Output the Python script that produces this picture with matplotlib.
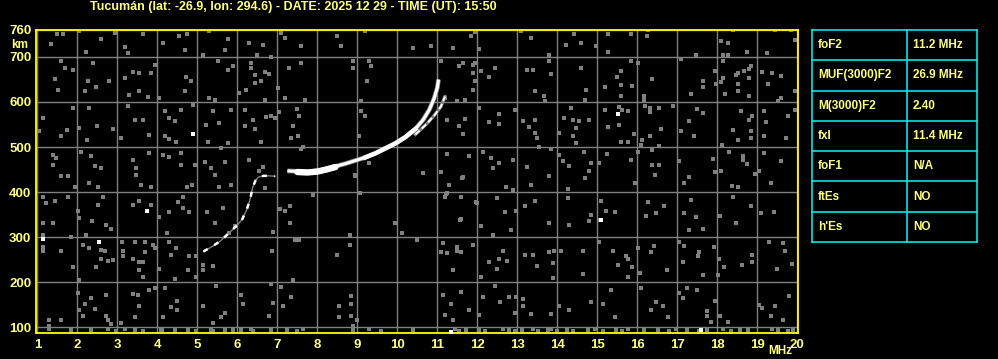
import numpy as np
import matplotlib
matplotlib.use('Agg')
import matplotlib.pyplot as plt

# Ionogram header and axes
title = 'Tucumán (lat: -26.9, lon: 294.6) - DATE: 2025 12 29 - TIME (UT): 15:50'
freq_ticks = list(range(1, 21))
height_ticks = [100, 200, 300, 400, 500, 600, 700, 760]

# F-layer trace, low part (MHz, km)
lower_f = [5.15, 5.35, 5.57, 5.8, 6.0, 6.11, 6.23, 6.32, 6.38, 6.45, 6.52, 6.65, 6.8, 6.94]
lower_h = [268, 278, 291, 310, 327, 338, 360, 385, 410, 425, 433, 436, 436, 435]

# ordinary trace
main_f = [7.25, 7.5, 7.75, 8.0, 8.2, 8.45, 8.7, 8.95, 9.2, 9.45, 9.7, 9.95, 10.2,
          10.45, 10.65, 10.8, 10.92, 11.0, 11.03]
main_h = [447, 446, 445, 447, 451, 457, 463, 470, 477, 486, 497, 508, 522,
          540, 561, 583, 608, 632, 650]

# extraordinary trace
xtrace_f = [10.45, 10.6, 10.75, 10.94, 11.09, 11.19]
xtrace_h = [528, 540, 553, 572, 590, 612]

# isolated strong echoes
white_f = [1.14, 2.53, 3.74, 4.88, 15.09, 15.53, 11.34, 17.59]
white_h = [296, 290, 359, 530, 337, 574, 90, 94]

# background noise echoes
noise_f = [
    1.49, 1.63, 1.34, 2.03, 2.59, 2.22, 2.94, 3.18, 3.26, 3.64, 4.14, 4.55, 4.73, 4.68, 5.30, 5.76, 5.68, 5.14,
    1.59, 1.68, 1.88, 2.39, 2.26, 2.79, 1.43, 1.51, 2.18, 2.47, 3.18, 3.38, 3.55, 3.84, 3.29, 3.55, 3.76, 4.05,
    3.93, 4.72, 4.84, 4.68, 5.51, 5.89, 5.76, 5.30, 5.43,
    1.14, 1.05, 1.59, 1.73, 1.90, 2.30, 2.49, 2.05, 2.24, 2.88, 3.09, 3.26, 3.43, 3.64, 3.80, 4.18, 4.30, 4.59,
    4.43, 4.18, 4.30, 4.47, 4.89, 5.22, 5.39, 5.55, 5.26, 5.76, 5.84,
    1.39, 1.47, 1.39, 1.59, 1.76, 2.09, 2.34, 2.43, 2.59, 3.38, 3.47, 3.47, 3.80, 4.14, 4.30, 4.59, 4.59, 4.93,
    5.18, 5.34, 5.59, 5.68, 5.43,
    6.28, 6.63, 6.49, 6.84, 7.09, 7.20, 7.59, 8.49, 8.59, 9.18, 10.39, 10.84, 6.34, 6.34, 6.45, 6.70, 6.78, 6.59,
    6.43, 6.22, 6.05, 7.01, 7.29, 7.59, 7.20, 7.68, 6.70, 8.88, 8.88, 9.30, 9.34, 9.23, 9.09,
    6.18, 6.39, 6.20, 6.45, 6.72, 6.84, 7.03, 6.95, 7.48, 7.53, 7.39, 7.34, 7.51, 6.59, 9.09, 9.18, 9.03,
    6.28, 6.63, 6.55, 7.63, 7.59, 9.30, 8.93, 10.63,
    11.84, 11.95, 11.39, 12.03, 13.09, 13.34, 13.80, 14.23, 14.43, 14.59, 14.98, 15.28, 15.28, 15.84,
    11.09, 11.53, 11.63, 11.88, 11.95, 11.88, 11.95, 12.09, 12.28, 12.45, 11.88, 11.70, 11.49, 11.18,
    13.23, 13.38, 13.84, 13.80, 13.44, 13.68, 13.70, 14.59, 14.73, 14.70, 15.19, 15.59, 15.49, 15.59, 15.88,
    15.59, 15.84,
    12.03, 11.24, 11.53, 11.65, 11.70, 12.28, 12.53, 12.53, 12.93, 13.13, 13.28, 13.44, 13.45, 13.49, 14.04,
    14.18, 14.34, 14.39, 14.54, 14.48, 14.39, 14.48, 14.79, 15.20, 15.54, 15.54, 15.63, 15.78, 15.28, 15.59,
    15.78, 15.93,
    11.24, 11.79, 11.09, 11.63, 12.14, 12.34, 12.38, 12.55, 12.89, 13.23, 13.54, 13.84, 13.80, 14.04, 14.14,
    14.29, 14.68, 14.84, 14.79, 15.04, 15.24, 15.84, 14.70,
    16.24, 16.26, 18.09, 18.28, 18.40, 18.14, 18.28, 18.74, 19.24, 19.45, 19.84, 19.94, 17.48, 16.03, 17.09,
    18.14, 17.95, 18.53, 18.68, 18.79, 18.84, 18.48, 18.14, 18.09, 17.98, 17.64, 17.64, 17.34, 16.38, 16.18,
    16.18, 18.53, 18.53, 18.79, 19.11, 19.38, 19.59, 19.28, 18.79, 18.19, 19.59, 19.53, 19.94,
    16.20, 16.32, 16.32, 16.54, 16.89, 17.49, 17.64, 17.29, 17.09, 16.59, 16.32, 16.13, 16.09, 16.54, 17.43,
    18.59, 18.88, 18.79, 18.39, 18.53, 18.84, 18.84, 19.17, 19.23, 19.17, 19.73, 19.78, 19.94, 18.13,
    16.03, 16.38, 16.38, 16.54, 16.45, 17.04, 17.29, 17.90, 17.95, 18.09, 18.30, 18.64, 18.64, 18.74, 18.95,
    19.04, 19.17, 19.59,
    1.14, 1.22, 1.43, 1.76, 1.95, 2.29, 2.51, 2.64, 2.51, 2.01, 2.05, 2.37, 2.72, 2.84, 1.14, 1.39, 1.14, 1.14,
    1.14, 1.59, 1.84, 2.22, 2.13, 2.29, 2.59, 2.70, 2.76, 2.88, 2.59, 2.47, 1.89, 2.05, 3.13, 3.15, 3.40, 3.54,
    3.84, 3.59, 3.84, 3.12, 3.45, 3.70, 3.90, 3.93, 3.70, 3.39, 3.54, 3.64, 3.54, 3.64, 4.04, 4.23, 4.30, 4.04,
    4.30, 4.51, 4.64, 4.64, 4.79, 4.74, 4.87, 4.47, 4.34, 4.79, 4.97, 4.76, 4.97, 4.43, 5.23, 5.43, 5.63, 5.78,
    5.93, 5.13, 5.38, 5.14, 5.47, 5.53, 5.84,
    2.01, 2.03, 2.13, 2.34, 2.20, 2.43, 2.72, 2.76, 2.84, 3.09, 2.72, 3.39, 3.51, 3.54, 3.43, 3.80, 3.93, 4.18,
    4.14, 4.34, 4.49, 4.49, 5.14, 5.39, 5.59, 5.70, 1.30, 1.30, 1.59,
    11.28, 11.22, 11.59, 11.97, 12.49, 12.72, 12.90, 12.68, 11.59, 12.09, 12.38, 12.84, 12.97, 13.20, 13.43,
    13.34, 14.28, 14.28, 13.79, 14.29, 14.80, 14.84, 15.09, 15.23, 15.45, 15.07, 15.95, 16.28, 16.67, 16.23,
    16.48, 17.18, 17.34, 17.18, 17.47, 17.30, 17.64, 18.37, 18.53, 18.39, 18.84, 18.47, 19.34, 19.09, 19.43,
    18.08,
    11.13, 11.09, 11.49, 11.59, 11.89, 11.39, 12.09, 12.29, 12.53, 12.48, 12.64, 12.73, 13.20, 13.38, 13.49,
    13.80, 13.93, 13.89, 13.89, 14.09, 14.64, 14.64, 15.04, 15.39, 15.51, 15.72, 15.78, 15.88, 15.78, 16.06,
    16.03, 16.42, 16.34, 16.74, 17.04, 17.14, 17.55, 17.51, 17.64, 17.18, 17.93, 18.05, 18.03, 18.18, 18.62,
    18.88, 18.88, 19.30, 19.64, 19.70, 19.49, 19.87,
    11.13, 11.34, 11.59, 11.20, 11.39, 11.79, 12.14, 12.05, 12.45, 12.57, 12.79, 12.97, 12.93, 13.15, 13.15,
    13.34, 13.84, 14.04, 14.30, 14.84, 15.14, 15.34, 15.45, 16.09, 16.34, 16.48, 16.65, 16.78, 17.04, 17.14,
    17.24, 17.49, 17.74, 17.74, 17.84, 17.95, 18.08, 18.28, 19.04, 19.13, 19.34, 19.45, 19.79, 19.64,
    6.69, 7.07, 7.19, 7.32, 7.32, 7.44, 7.53, 6.90, 6.86, 7.90, 8.82, 8.82, 8.94, 8.49, 9.94, 10.11, 10.48,
    10.63, 11.15, 11.24, 11.49, 11.57, 11.61, 11.99, 11.19, 11.24, 9.07,
    6.09, 6.14, 6.84, 7.09, 6.88, 7.15, 6.78, 7.34, 7.39, 8.53, 8.55, 8.84, 8.84, 8.84, 8.89, 8.99,
]
noise_h = [
    750, 750, 728, 757, 740, 710, 753, 723, 709, 750, 731, 746, 752, 715, 757, 740, 716, 705,
    690, 676, 670, 687, 646, 646, 650, 627, 624, 633, 653, 666, 664, 664, 616, 624, 612, 609,
    683, 656, 646, 624, 690, 681, 672, 609, 605,
    564, 535, 525, 538, 587, 587, 547, 542, 516, 540, 520, 592, 561, 559, 527, 579, 564, 583,
    557, 525, 518, 512, 593, 550, 579, 553, 512, 509, 583,
    483, 476, 461, 435, 435, 490, 481, 457, 453, 472, 453, 437, 487, 483, 477, 487, 461, 461,
    466, 453, 498, 466, 437,
    732, 727, 705, 701, 753, 742, 724, 746, 725, 757, 720, 724, 687, 676, 661, 666, 663, 646,
    642, 627, 620, 631, 676, 687, 609, 605, 604, 690, 676, 690, 681, 646, 602,
    583, 561, 547, 540, 567, 570, 577, 564, 584, 570, 547, 520, 525, 512, 579, 570, 525,
    472, 456, 446, 501, 496, 464, 437, 442,
    746, 755, 720, 718, 758, 742, 705, 727, 752, 732, 724, 750, 710, 750,
    690, 681, 686, 683, 687, 664, 646, 668, 655, 676, 627, 605, 602, 609,
    672, 672, 663, 690, 624, 614, 602, 676, 627, 605, 633, 668, 655, 638, 635,
    614, 690,
    587, 561, 546, 530, 562, 555, 574, 552, 583, 557, 544, 561, 531, 521, 532,
    564, 587, 561, 557, 542, 525, 509, 561, 583, 589, 550, 583, 579, 544, 512,
    512, 530,
    485, 481, 444, 433, 490, 476, 453, 464, 472, 456, 501, 496, 435, 483, 470,
    458, 490, 464, 446, 464, 485, 472, 431,
    746, 759, 735, 732, 759, 705, 705, 710, 709, 759, 759, 738, 705, 687, 696,
    690, 668, 664, 668, 673, 681, 659, 653, 644, 641, 646, 633, 618, 650, 614,
    605, 641, 624, 653, 666, 664, 658, 641, 614, 618, 609, 602, 624,
    592, 587, 577, 587, 592, 584, 576, 557, 535, 540, 525, 516, 505, 503, 525,
    579, 570, 561, 538, 516, 535, 520, 579, 555, 525, 520, 570, 583, 505,
    490, 494, 461, 461, 438, 468, 433, 473, 444, 446, 490, 481, 472, 463, 441,
    446, 487, 468,
    390, 376, 381, 390, 411, 421, 411, 390, 372, 359, 342, 335, 327, 318, 332, 332, 305, 279,
    270, 270, 300, 305, 283, 276, 272, 268, 246, 250, 251, 233, 233, 205, 270, 258, 372, 381,
    372, 416, 412, 288, 290, 290, 283, 276, 266, 251, 244, 244, 226, 212, 229, 310, 290, 344,
    355, 377, 390, 365, 355, 412, 416, 276, 261, 258, 258, 226, 212, 207, 355, 332, 365, 310,
    324, 238, 235, 227, 192, 412, 416,
    176, 138, 124, 164, 152, 140, 125, 116, 107, 109, 172, 174, 172, 146, 122, 183, 187, 187,
    122, 144, 157, 138, 147, 110, 122, 132, 116, 103, 116,
    416, 396, 390, 377, 387, 412, 405, 355, 340, 324, 305, 315, 359, 368, 381,
    416, 407, 387, 332, 327, 335, 350, 381, 359, 355, 338, 420, 377, 368, 346,
    353, 421, 383, 353, 344, 316, 318, 414, 411, 390, 368, 331, 421, 353, 355,
    346,
    287, 266, 279, 266, 283, 227, 212, 244, 251, 229, 270, 248, 261, 261, 236,
    266, 268, 242, 209, 270, 270, 218, 288, 270, 238, 257, 251, 233, 211, 221,
    276, 281, 266, 226, 290, 244, 266, 257, 216, 281, 279, 251, 216, 233, 238,
    261, 244, 290, 287, 270, 229, 241,
    172, 152, 177, 127, 116, 137, 168, 127, 192, 155, 168, 167, 132, 162, 147,
    130, 130, 147, 138, 155, 152, 183, 122, 187, 137, 155, 147, 122, 176, 164,
    187, 183, 135, 125, 112, 157, 125, 112, 150, 142, 125, 147, 170, 116,
    409, 362, 357, 368, 331, 294, 294, 312, 268, 394, 305, 283, 436, 261, 331, 309, 294,
    442, 287, 264, 268, 338, 431, 376, 390, 398, 398,
    172, 152, 196, 190, 153, 147, 125, 168, 204, 147, 122, 170, 152, 124, 103, 116,
]

# clutter along the bottom of the height range
floor_f = [1.30, 1.84, 2.34, 2.76, 2.97, 3.20, 3.45, 3.65, 4.09, 4.11, 4.43, 4.44, 4.76, 4.97, 5.33,
           5.39, 5.68, 5.88, 5.89, 6.08, 6.33, 6.38, 6.83, 7.24, 7.49, 7.63, 8.90, 9.28, 9.60, 10.40,
           11.43, 11.55, 11.72, 12.05, 12.18, 12.63, 12.80, 12.95, 13.12, 13.38, 13.51, 13.76, 13.84,
           13.99, 14.24, 14.39, 14.76, 14.95, 15.14, 15.47, 15.63, 15.76, 16.18, 16.51, 16.80, 16.97,
           17.24, 17.55, 17.74, 18.14, 18.34, 18.57, 18.76, 19.38, 19.51, 19.76, 19.89]
floor_h = [96, 94, 93, 96, 92, 95, 93, 92, 94, 93, 95, 92, 93, 92, 94,
           92, 93, 95, 92, 94, 95, 92, 93, 94, 92, 95, 93, 95, 92, 93,
           95, 92, 93, 94, 92, 95, 93, 92, 94, 96, 92, 93, 95,
           92, 94, 92, 93, 95, 92, 94, 92, 96, 93, 94, 92, 95,
           93, 92, 94, 95, 92, 93, 94, 96, 93, 92, 94]

# scaled parameters table
param_names = ['foF2', 'MUF(3000)F2', 'M(3000)F2', 'fxI', 'foF1', 'ftEs', "h'Es"]
param_values = ['11.2 MHz', '26.9 MHz', '2.40', '11.4 MHz', 'N/A', 'NO', 'NO']

YEL = '#ffff80'
GRAY = '#808080'
FONT = 'Liberation Sans'

fig = plt.figure(figsize=(9.98, 3.59), dpi=100, facecolor='black')
ax = fig.add_axes([35.5 / 998, 26 / 359, 762.5 / 998, 303.5 / 359])
ax.set_facecolor('black')

ax.scatter(noise_f, noise_h, marker='s', s=5.5, color=GRAY, linewidths=0, zorder=2)
ax.scatter(floor_f, floor_h, marker='s', s=7, color=GRAY, linewidths=0, zorder=2)
ax.scatter(white_f, white_h, marker='s', s=5, color='white', linewidths=0, zorder=3)

# low part of the trace: faint with a few strong dashes
ax.plot(lower_f, lower_h, color=GRAY, lw=1.0, zorder=3)
ax.plot(lower_f, lower_h, color='white', lw=1.8, ls=(0, (2, 3)), zorder=4)

mf = np.array(main_f)
mh = np.array(main_h)
ax.plot(mf, mh, color=GRAY, lw=3.4, zorder=3, solid_capstyle='butt')
ax.plot(mf, mh, color='white', lw=2.2, zorder=4, solid_capstyle='butt')
thick = (mf >= 7.5) & (mf <= 8.45)
ax.plot(mf[thick], mh[thick] - 1.5, color='white', lw=4.6, zorder=4, solid_capstyle='round')
mid = (mf >= 9.2) & (mf <= 10.45)
ax.plot(mf[mid], mh[mid], color='white', lw=3.2, zorder=4)

ax.plot(xtrace_f, xtrace_h, color=GRAY, lw=2.4, zorder=3)
ax.plot(xtrace_f, xtrace_h, color='white', lw=1.4, ls=(0, (3, 1.5)), zorder=4)

ax.set_xlim(0.95, 20.02)
ax.set_ylim(87, 761)
ax.set_xticks(freq_ticks)
ax.set_xticklabels([str(v) for v in freq_ticks])
ax.set_yticks(height_ticks)
ax.set_yticklabels([str(v) for v in height_ticks])
ax.tick_params(length=0, colors=YEL, labelsize=9.5)
ax.tick_params(axis='x', pad=4.5)
ax.tick_params(axis='y', pad=3)
for lab in ax.get_xticklabels() + ax.get_yticklabels():
    lab.set_fontweight('bold')
    lab.set_fontfamily(FONT)
ax.grid(True, color=GRAY, lw=1.0)
ax.set_axisbelow(True)
for sp in ax.spines.values():
    sp.set_color('#ffff00')
    sp.set_linewidth(1.3)

fig.text(293 / 998, 1 - 7 / 359, title, color=YEL, fontsize=9, fontweight='bold',
         family=FONT, ha='center', va='center')
fig.text(20 / 998, 1 - 44.5 / 359, 'km', color=YEL, fontsize=8.5, fontweight='bold',
         family=FONT, ha='center', va='center')
fig.text(780 / 998, 1 - 351 / 359, 'MHz', color=YEL, fontsize=8.5, fontweight='bold',
         family=FONT, ha='center', va='center')

# parameter table
tab = fig.add_axes([812 / 998, 117 / 359, 165 / 998, 212 / 359])
tab.set_xlim(0, 1)
tab.set_ylim(len(param_names), 0)
tab.axis('off')
for i in range(len(param_names) + 1):
    tab.axhline(i, color='#00e5e5', lw=1.2, clip_on=False)
for x in (0, 0.576, 1):
    tab.axvline(x, color='#00e5e5', lw=1.2, clip_on=False)
for i, (name, val) in enumerate(zip(param_names, param_values)):
    tab.text(0.036, i + 0.5, name, color=YEL, fontsize=8.5, fontweight='bold',
             family=FONT, va='center', ha='left')
    tab.text(0.612, i + 0.5, val, color=YEL, fontsize=8.5, fontweight='bold',
             family=FONT, va='center', ha='left')

fig.savefig('out.png', dpi=100, facecolor='black')
